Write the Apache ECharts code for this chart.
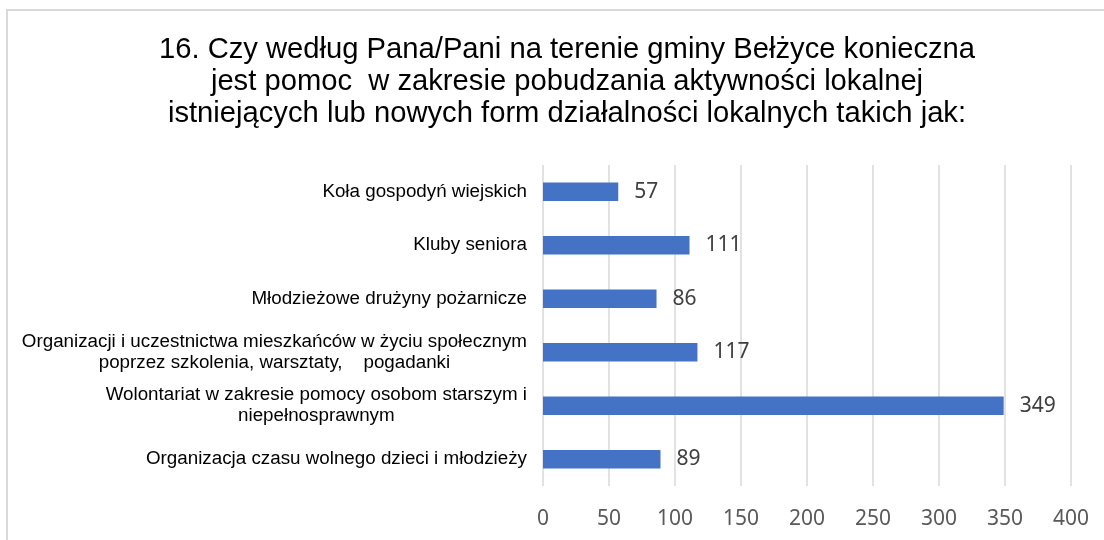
<!DOCTYPE html>
<html>
<head>
<meta charset="utf-8">
<script src="https://cdn.jsdelivr.net/npm/echarts@6/dist/echarts.min.js"></script>
<style>html,body{margin:0;padding:0;background:#fff;}#c{width:1104px;height:540px;}</style>
</head>
<body>
<div id="c"></div>
<script>
const titleLines = [
  '16. Czy według Pana/Pani na terenie gminy Bełżyce konieczna',
  'jest pomoc  w zakresie pobudzania aktywności lokalnej',
  'istniejących lub nowych form działalności lokalnych takich jak:'
];
const categories = [
  'Koła gospodyń wiejskich',
  'Kluby seniora',
  'Młodzieżowe drużyny pożarnicze',
  'Organizacji i uczestnictwa mieszkańców w życiu społecznym\npoprzez szkolenia, warsztaty,    pogadanki',
  'Wolontariat w zakresie pomocy osobom starszym i\nniepełnosprawnym',
  'Organizacja czasu wolnego dzieci i młodzieży'
];
const values = [57, 111, 86, 117, 349, 89];
const axisMin = 0, axisMax = 400, axisStep = 50;

const chart = echarts.init(document.getElementById('c'), null, {renderer: 'canvas'});
chart.setOption({
  animation: false,
  backgroundColor: '#ffffff',
  graphic: [{
    type: 'rect', silent: true, z: -10,
    shape: {x: 7, y: 10, width: 1200, height: 700},
    style: {fill: 'none', stroke: '#d9d9d9', lineWidth: 2}
  }],
  title: {
    text: titleLines.join('\n'),
    left: 562, top: 29, textAlign: 'center',
    textStyle: {fontFamily: 'Liberation Sans', fontSize: 29.2, fontWeight: 'normal', color: '#000', lineHeight: 32}
  },
  grid: {left: 543, right: 33, top: 165, bottom: 54, containLabel: false},
  xAxis: {
    type: 'value', min: axisMin, max: axisMax, interval: axisStep,
    axisLine: {show: false}, axisTick: {show: false},
    splitLine: {show: true, lineStyle: {color: '#d9d9d9', width: 1.5}},
    axisLabel: {margin: 23, fontFamily: 'Noto Sans', fontSize: 21, color: '#595959'}
  },
  yAxis: {
    type: 'category', data: categories, inverse: true,
    axisLine: {show: false}, axisTick: {show: false}, splitLine: {show: false},
    axisLabel: {
      margin: 16, align: 'right',
      formatter: v => v.split('\n').map(s => '{c|' + s + '}').join('\n'),
      rich: {c: {align: 'center', fontFamily: 'Liberation Sans', fontSize: 18.8, color: '#000', lineHeight: 21}}
    }
  },
  series: [{
    type: 'bar', data: values, barWidth: 18.5,
    itemStyle: {color: '#4472C4'},
    label: {show: true, position: 'right', distance: 16, fontFamily: 'Noto Sans', fontSize: 21, color: '#404040'}
  }]
});
</script>
</body>
</html>
